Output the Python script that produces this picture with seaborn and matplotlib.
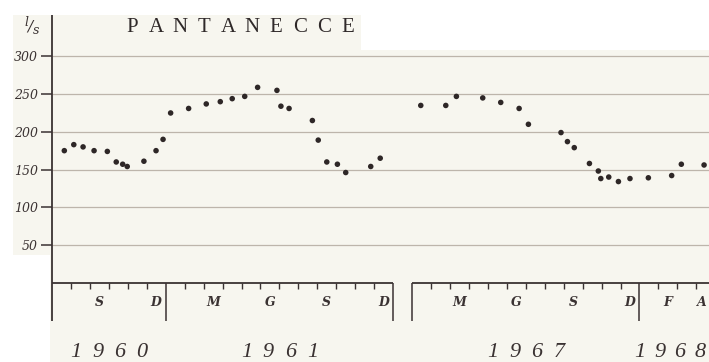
import numpy as np
import pandas as pd
import matplotlib.pyplot as plt
from matplotlib.patches import Rectangle
import seaborn as sns

sns.set_style("white")

# discharge (l/s) at Pantanecce
# x = months since 1 Jul 1960
months_1960 = [0.65, 1.15, 1.64, 2.22, 2.92, 3.39, 3.73, 3.97, 4.85, 5.49,
               5.86, 6.26, 7.21, 8.14, 8.88, 9.51, 10.17, 10.85, 11.87, 12.08,
               12.51, 13.74, 14.05, 14.50, 15.06, 15.50, 16.82, 17.32]
flow_1960 = [175, 183, 180, 175, 174, 160, 157, 154, 161, 175,
             190, 225, 231, 237, 240, 244, 247, 259, 255, 234,
             231, 215, 189, 160, 157, 146, 154, 165]
# x = months since 1 Jan 1967
months_1967 = [0.46, 1.78, 2.34, 3.73, 4.68, 5.65, 6.14, 7.86, 8.20, 8.56,
               9.36, 9.83, 9.96, 10.38, 10.89, 11.50, 12.47, 13.70, 14.21, 15.41]
flow_1967 = [235, 235, 247, 245, 239, 231, 210, 199, 187, 179,
             158, 148, 138, 140, 134, 138, 139, 142, 157, 156]

y_ticks = [50, 100, 150, 200, 250, 300]
month_letters = ["S", "D", "M", "G", "S", "D", "M", "G", "S", "D", "F", "A"]
month_slots = [2.5, 5.5, 8.5, 11.5, 14.5, 17.5, 21.5, 24.5, 27.5, 30.5, 32.5, 34.3]
years = ["1960", "1961", "1967", "1968"]
year_centres = [3.0, 12.0, 25.0, 32.6]
year_pitch = [22, 22, 22, 20]   # px between digits

GAP = 19          # the 1967 segment starts one empty month after Dec 1961
XMAX = 34.67
YMIN, YMAX = -51, 355

ink = "#3a3232"
grid = "#bdb5ab"
paper = "#f7f6ef"

df = pd.concat([
    pd.DataFrame({"pos": months_1960, "q": flow_1960}),
    pd.DataFrame({"pos": np.array(months_1967) + GAP, "q": flow_1967}),
])

W, H = 709, 362
fig = plt.figure(figsize=(W / 100, H / 100), dpi=100, facecolor="white")

def px(x, y):
    return x / W, 1 - y / H

# scanned paper areas
for x0, y0, x1, y1 in [(13, 15, 361, 50), (13, 50, W, 255), (50, 255, W, H)]:
    fig.patches.append(Rectangle(px(x0, y1), (x1 - x0) / W, (y1 - y0) / H,
                                 transform=fig.transFigure, color=paper,
                                 lw=0, zorder=-10))

ax = fig.add_axes([52 / W, (H - 321) / H, (W - 52) / W, (321 - 15) / H])
ax.set_facecolor("none")
ax.set_xlim(0, XMAX)
ax.set_ylim(YMIN, YMAX)
for s in ax.spines.values():
    s.set_visible(False)

# horizontal grid
ax.hlines(y_ticks, 0, XMAX, color=grid, lw=0.9, zorder=1)

# axes lines
ax.vlines(0, YMIN, YMAX, color=ink, lw=1.3, clip_on=False, zorder=3)
ax.hlines(0, 0, 18, color=ink, lw=1.3, zorder=3)
ax.hlines(0, GAP, XMAX, color=ink, lw=1.3, zorder=3)
year_bounds = [6, 18, GAP, GAP + 12]
ax.vlines(year_bounds, YMIN, 0, color=ink, lw=1.1, zorder=3)
month_ticks = [m for m in range(1, 18) if m != 6] + \
              [m for m in range(GAP + 1, 35) if m != GAP + 12]
ax.vlines(month_ticks, -9, 0, color=ink, lw=1.0, zorder=3)

sns.scatterplot(data=df, x="pos", y="q", ax=ax, color="#2e2727", s=16,
                edgecolor="none", legend=False, zorder=4)
ax.set_xlabel("")
ax.set_ylabel("")
ax.set_xticks([])
ax.set_yticks(y_ticks)
ax.set_yticklabels([str(v) for v in y_ticks], fontfamily="DejaVu Serif",
                   fontstyle="italic", fontsize=9, color=ink)
ax.tick_params(axis="y", direction="out", length=8, width=1.1, color=ink,
               pad=2, left=True)

for slot, lab in zip(month_slots, month_letters):
    ax.text(slot, -26, lab, ha="center", va="center", fontsize=9,
            fontfamily="DejaVu Serif", fontstyle="italic", fontweight="bold",
            color=ink, clip_on=False)

for centre, yr, p in zip(year_centres, years, year_pitch):
    step = p / 18.95
    for i, ch in enumerate(yr):
        ax.text(centre + (i - 1.5) * step, -93, ch, ha="center", va="center",
                fontsize=16, fontfamily="Liberation Serif", fontstyle="italic",
                color=ink, clip_on=False)

# title with wide letter spacing
for i, ch in enumerate("PANTANECCE"):
    fig.text(*px(132 + 24 * i, 28), ch, ha="center", va="center",
             fontsize=15, fontfamily="Liberation Serif", color="#2f2929")

# unit l/s
fig.text(*px(26, 22), "l", ha="center", va="center", fontsize=9,
         fontfamily="DejaVu Serif", fontstyle="italic", color=ink)
fig.text(*px(30, 27), "/", ha="center", va="center", fontsize=11,
         fontfamily="DejaVu Serif", fontstyle="italic", color=ink)
fig.text(*px(36, 30), "s", ha="center", va="center", fontsize=9,
         fontfamily="DejaVu Serif", fontstyle="italic", color=ink)

fig.savefig("out.png", dpi=100, facecolor="white")
